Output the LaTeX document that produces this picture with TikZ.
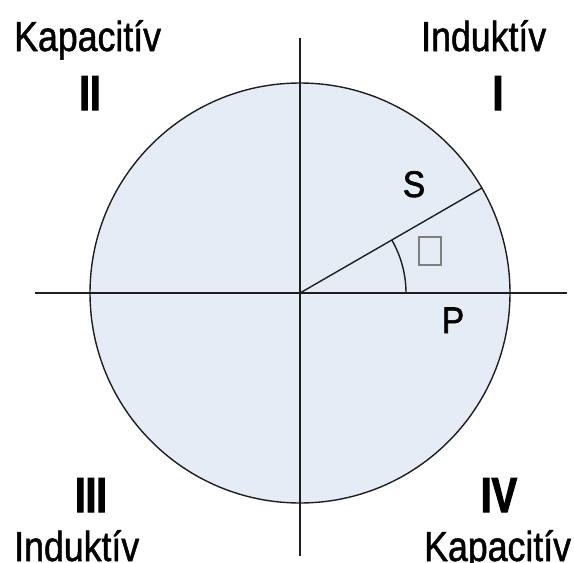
\documentclass[tikz,border=0pt]{standalone}
\usepackage{fontspec}
\setmainfont{Liberation Sans}[FakeStretch=0.85,FakeBold=1.2]
\newfontfamily\numfont{Liberation Sans}[FakeStretch=0.78,FakeBold=2.2]
\newfontfamily\vecfont{Liberation Sans}[FakeStretch=0.9,FakeBold=1.8]
\definecolor{discfill}{RGB}{230,236,246}
\definecolor{linec}{RGB}{30,30,30}
\tikzset{
  lbl/.style={inner sep=0pt, anchor=base west, font=\fontsize{42}{48}\selectfont},
  num/.style={inner sep=0pt, anchor=base, font=\numfont\bfseries\fontsize{49}{54}\selectfont},
  vec/.style={inner sep=0pt, anchor=base, font=\vecfont\fontsize{37}{42}\selectfont},
  ln/.style={draw=linec, line width=1.4pt}
}
\begin{document}
\begin{tikzpicture}[x=1pt,y=-1pt]
\useasboundingbox (0,0) rectangle (574,563);
\node[circle, ln, fill=discfill, minimum size=420pt, inner sep=0pt] (C) at (300,293) {};
\coordinate (O) at (300,293);
\coordinate (L) at (35,293);
\coordinate (R) at (567,293);
\coordinate (T) at (300,38);
\coordinate (B) at (300,556);
\draw[ln] (L) -- (R);
\draw[ln] (T) -- (B);
\draw[ln] (O) -- (C.30);
\draw[ln] ([shift={(106,0)}]O) arc[start angle=0, end angle=-30, radius=106];
\node[draw=gray, line width=1.2pt, minimum width=22pt, minimum height=28pt, inner sep=0pt] (phi) at (430,251) {};
\node[vec] (S) at (414,197) {S};
\node[vec] (P) at (453,333) {P};
\node[lbl] (k1) at (14,51) {Kapacitív};
\node[lbl] (i1) at (421,51) {Induktív};
\node[lbl] (i2) at (14,561) {Induktív};
\node[lbl] (k2) at (424,561) {Kapacitív};
\node[num] (n2) at (90,110) {II};
\node[num] (n1) at (498,110) {I};
\node[num] (n3) at (91,512) {III};
\node[num] (n4) at (499,512) {IV};
\end{tikzpicture}
\end{document}
